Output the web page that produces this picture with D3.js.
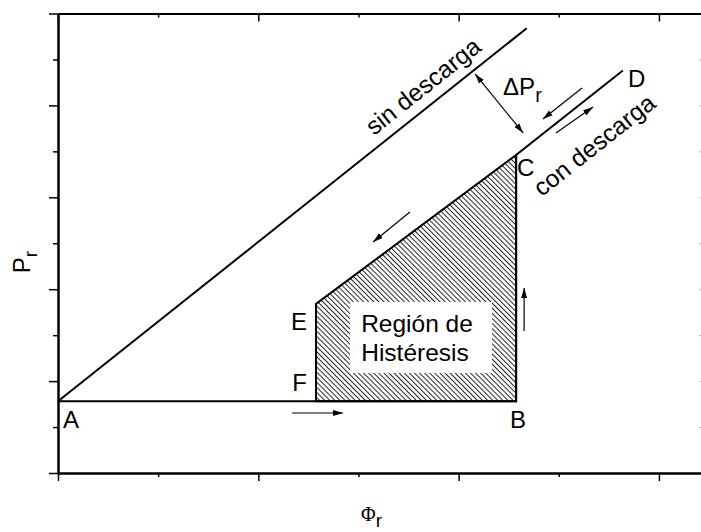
<!DOCTYPE html>
<html><head><meta charset="utf-8">
<script src="https://cdn.jsdelivr.net/npm/d3@7"></script>
<style>
body{margin:0;background:#fff}
svg{display:block}
text{font-family:"Liberation Sans",Arial,sans-serif;fill:#000}
</style>
</head><body>
<svg id="chart" width="701" height="532"></svg>
<script>
// axis ticks (unlabelled)
const xMajorTicks = [0, 1, 2, 3];
const xMinorTicks = [0.5, 1.5, 2.5];
const yMajorTicks = [0, 1, 2, 3, 4, 5];
const yMinorTicks = [0.5, 1.5, 2.5, 3.5, 4.5];

// loading curve without discharge
const sinDescarga = [[0, 0.78], [2.34, 4.84]];
// loading curve with discharge: A -> B -> C -> D
const conDescarga = [[0, 0.78], [2.287, 0.78], [2.287, 3.46], [2.82, 4.38]];
// hysteresis region: E -> C -> B -> F
const histeresis = [[1.288, 1.84], [2.287, 3.46], [2.287, 0.78], [1.288, 0.78]];

// named points
const pointNames = ["A", "B", "C", "D", "E", "F"];
const pointCoords = [[0, 0.78], [2.287, 0.78], [2.287, 3.46], [2.82, 4.38], [1.288, 1.84], [1.288, 0.78]];

// direction arrows [from, to]
const arrows = [
  [[1.168, 0.653], [1.423, 0.653]],
  [[2.327, 1.545], [2.327, 2.013]],
  [[1.757, 2.840], [1.573, 2.514]],
  [[2.616, 4.189], [2.421, 3.852]],
  [[2.486, 3.700], [2.671, 3.983]]
];
// ΔPr double arrow between the two curves
const deltaArrow = [[2.082, 4.342], [2.322, 3.700]];

const svg = d3.select("#chart");
const x = d3.scaleLinear().domain([0, 3.215]).range([58, 702]);
const y = d3.scaleLinear().domain([0, 5]).range([473, 13.5]);

// arrow head marker
const defs = svg.append("defs");
defs.append("marker")
  .attr("id", "head").attr("markerUnits", "userSpaceOnUse")
  .attr("viewBox", "0 -4 10 8").attr("refX", 10).attr("refY", 0)
  .attr("markerWidth", 10).attr("markerHeight", 8)
  .attr("orient", "auto-start-reverse")
  .append("path").attr("d", "M0,-3L10,0L0,3Z").attr("fill", "#000");

// diagonal hatching
defs.append("pattern")
  .attr("id", "hatch").attr("patternUnits", "userSpaceOnUse")
  .attr("width", 3.6).attr("height", 3.6)
  .attr("patternTransform", "rotate(-45)")
  .append("line").attr("x1", 0.5).attr("y1", -1).attr("x2", 0.5).attr("y2", 5)
  .attr("stroke", "#000").attr("stroke-width", 0.85);

// axes
function styleAxis(g) {
  g.select(".domain").attr("stroke", "#000").attr("stroke-width", 2);
  g.selectAll(".tick line").attr("stroke", "#000").attr("stroke-width", 1.5);
}
const bottomY = y(0), topY = y(5), leftX = x(0), rightX = 702;

svg.append("g").attr("transform", `translate(0,${bottomY})`)
  .call(d3.axisBottom(x).tickValues(xMinorTicks).tickSize(4).tickFormat("").tickSizeOuter(0)).call(styleAxis);
svg.append("g").attr("transform", `translate(0,${bottomY})`)
  .call(d3.axisBottom(x).tickValues(xMajorTicks).tickSize(8).tickFormat("").tickSizeOuter(0)).call(styleAxis);
svg.append("g").attr("transform", `translate(0,${topY})`)
  .call(d3.axisBottom(x).tickValues(xMinorTicks).tickSize(4).tickFormat("").tickSizeOuter(0)).call(styleAxis);
svg.append("g").attr("transform", `translate(0,${topY})`)
  .call(d3.axisBottom(x).tickValues(xMajorTicks).tickSize(8).tickFormat("").tickSizeOuter(0)).call(styleAxis);
svg.append("g").attr("transform", `translate(${leftX},0)`)
  .call(d3.axisLeft(y).tickValues(yMinorTicks).tickSize(5).tickFormat("").tickSizeOuter(0)).call(styleAxis);
svg.append("g").attr("transform", `translate(${leftX},0)`)
  .call(d3.axisLeft(y).tickValues(yMajorTicks).tickSize(9).tickFormat("").tickSizeOuter(0)).call(styleAxis);
const rightAxis = svg.append("g").attr("transform", `translate(${rightX},0)`)
  .call(d3.axisLeft(y).tickValues(yMajorTicks.slice(1, 5).concat(yMinorTicks)).tickSize(3).tickFormat("").tickSizeOuter(0));
rightAxis.select(".domain").attr("stroke", "#000").attr("stroke-width", 2);
rightAxis.selectAll(".tick line").attr("stroke", "#bbb").attr("stroke-width", 1);

const line = d3.line().x(d => x(d[0])).y(d => y(d[1]));

// hysteresis region
svg.append("path").datum(histeresis)
  .attr("d", d => line(d) + "Z")
  .attr("fill", "url(#hatch)").attr("stroke", "#000").attr("stroke-width", 2);

// curves
svg.append("path").datum(sinDescarga).attr("d", line)
  .attr("fill", "none").attr("stroke", "#000").attr("stroke-width", 2);
svg.append("path").datum(conDescarga).attr("d", line)
  .attr("fill", "none").attr("stroke", "#000").attr("stroke-width", 2)
  .attr("stroke-linejoin", "miter");

// label box inside the region
svg.append("rect").attr("x", 350).attr("y", 302).attr("width", 142).attr("height", 71).attr("fill", "#fff");
svg.append("text").attr("x", 417).attr("y", 332).attr("text-anchor", "middle")
  .attr("font-size", 24.5).text("Región de");
svg.append("text").attr("x", 415).attr("y", 361).attr("text-anchor", "middle")
  .attr("font-size", 24.5).text("Histéresis");

// arrows
svg.selectAll(".arrow").data(arrows).enter().append("path")
  .attr("class", "arrow")
  .attr("d", d => line(d))
  .attr("stroke", "#000").attr("stroke-width", 1.2).attr("fill", "none")
  .attr("marker-end", "url(#head)");
svg.append("path").datum(deltaArrow).attr("d", line)
  .attr("stroke", "#000").attr("stroke-width", 1.2).attr("fill", "none")
  .attr("marker-start", "url(#head)").attr("marker-end", "url(#head)");

// point names, placed beside their points
const nameOffsets = {A: [5, 27, "start"], B: [-6, 27, "start"], C: [1, 21, "start"],
  D: [5, 17, "start"], E: [-9, 26, "end"], F: [-9, -10, "end"]};
svg.selectAll(".pname").data(pointNames).enter().append("text")
  .attr("class", "pname")
  .attr("x", (d, i) => x(pointCoords[i][0]) + nameOffsets[d][0])
  .attr("y", (d, i) => y(pointCoords[i][1]) + nameOffsets[d][1])
  .attr("text-anchor", d => nameOffsets[d][2])
  .attr("font-size", 24).text(d => d);

// curve captions, aligned with each curve
function angleOf(pts) {
  const [a, b] = pts;
  return Math.atan2(y(b[1]) - y(a[1]), x(b[0]) - x(a[0])) * 180 / Math.PI;
}
svg.append("text")
  .attr("transform", `translate(${x(1.826)},${y(4.20)}) rotate(${angleOf(sinDescarga)})`)
  .attr("text-anchor", "middle").attr("dy", "0.3em").attr("font-size", 24.5).text("sin descarga");
svg.append("text")
  .attr("transform", `translate(${x(2.68)},${y(3.56)}) rotate(${angleOf(conDescarga.slice(2))})`)
  .attr("text-anchor", "middle").attr("dy", "0.3em").attr("font-size", 24.5).text("con descarga");

// ΔPr caption
const dp = svg.append("text").attr("x", x(2.222)).attr("y", y(4.112)).attr("font-size", 24);
dp.append("tspan").text("ΔP");
dp.append("tspan").attr("dy", 7).attr("font-size", 20).text("r");

// axis titles
const yl = svg.append("text").attr("transform", "translate(30,262) rotate(-90)")
  .attr("text-anchor", "middle").attr("font-size", 24);
yl.append("tspan").text("P");
yl.append("tspan").attr("dy", 7).attr("font-size", 19).text("r");

const xl = svg.append("text").attr("x", 361).attr("y", 521).attr("font-size", 20);
xl.append("tspan").attr("font-family", "'Liberation Serif','Times New Roman',serif").text("Φ");
xl.append("tspan").attr("dy", 6).attr("font-size", 19).text("r");
</script>
</body></html>
